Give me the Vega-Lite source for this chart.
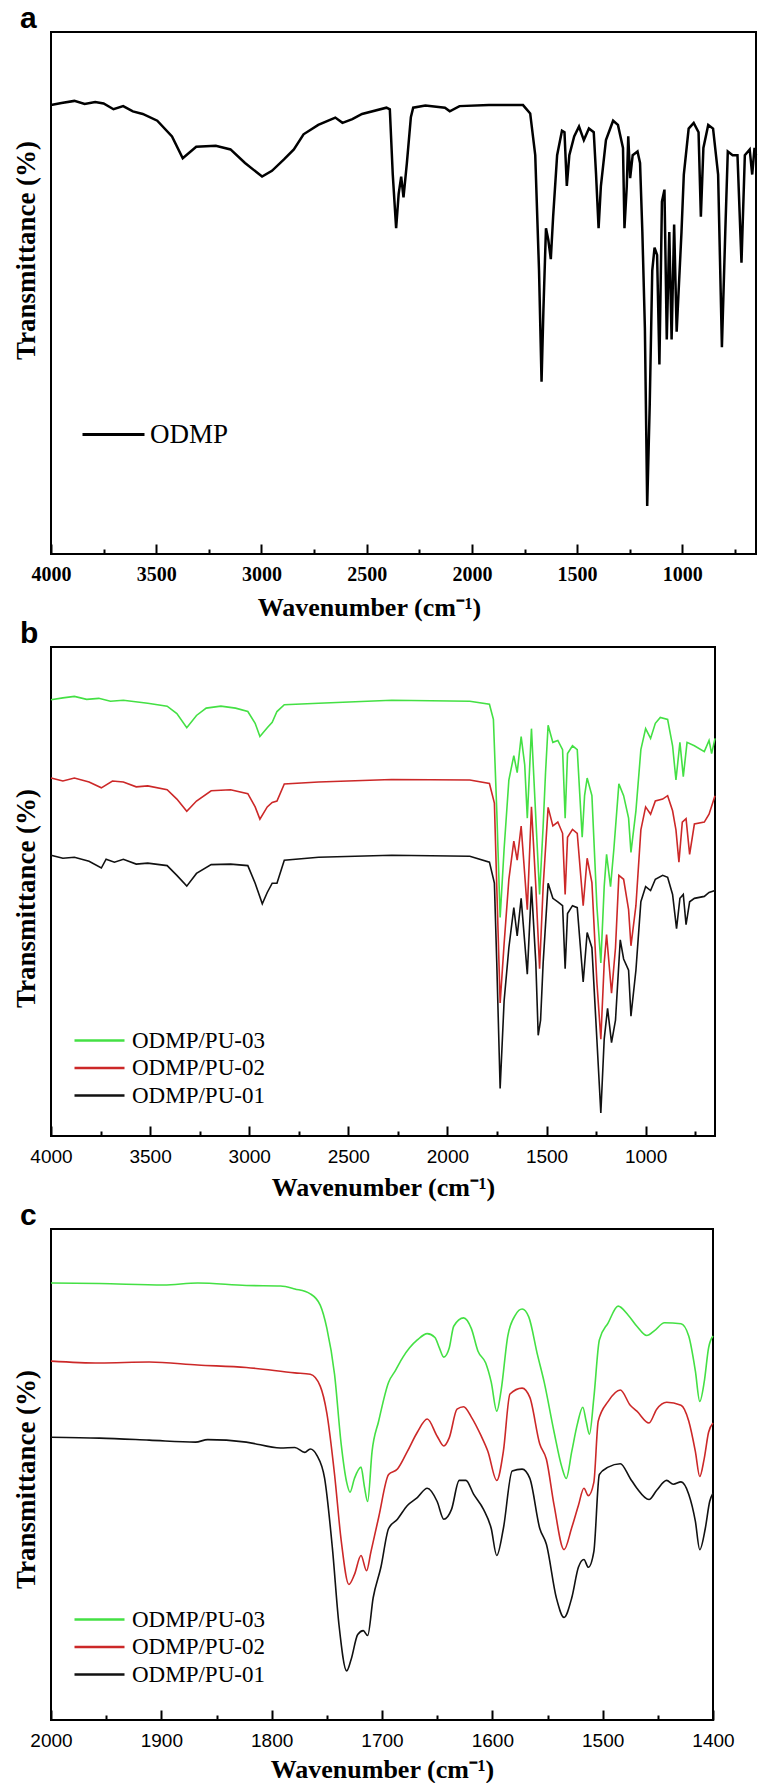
{
"$schema": "https://vega.github.io/schema/vega-lite/v6.json",
"padding": {"left": 11, "top": 3, "right": 0, "bottom": 0},
"background": "white",
"config": {"view": {"stroke": "#000", "strokeWidth": 2}, "axis": {"grid": false}},
"spacing": 93,
"bounds": "flush",
"resolve": {"scale": {"color": "independent"}, "legend": {"color": "independent"}},
"datasets": {
"a": [{"w":4000,"t":86.0},{"w":3950,"t":86.4},{"w":3889,"t":86.8},{"w":3840,"t":86.2},{"w":3790,"t":86.6},{"w":3750,"t":86.3},{"w":3703,"t":85.2},{"w":3657,"t":85.8},{"w":3611,"t":84.8},{"w":3564,"t":84.3},{"w":3495,"t":83.0},{"w":3425,"t":80.0},{"w":3374,"t":75.8},{"w":3310,"t":78.0},{"w":3217,"t":78.2},{"w":3147,"t":77.5},{"w":3078,"t":74.9},{"w":2997,"t":72.3},{"w":2950,"t":73.4},{"w":2893,"t":75.6},{"w":2846,"t":77.5},{"w":2800,"t":80.4},{"w":2730,"t":82.2},{"w":2649,"t":83.6},{"w":2615,"t":82.6},{"w":2568,"t":83.3},{"w":2522,"t":84.3},{"w":2406,"t":85.5},{"w":2390,"t":85.2},{"w":2376,"t":72.7},{"w":2360,"t":62.4},{"w":2348,"t":69.0},{"w":2336,"t":72.3},{"w":2325,"t":68.3},{"w":2309,"t":74.9},{"w":2290,"t":83.7},{"w":2279,"t":85.5},{"w":2221,"t":85.9},{"w":2128,"t":85.5},{"w":2105,"t":84.8},{"w":2059,"t":85.8},{"w":1919,"t":86.0},{"w":1757,"t":86.0},{"w":1723,"t":84.4},{"w":1699,"t":76.4},{"w":1681,"t":54.3},{"w":1669,"t":33.0},{"w":1660,"t":47.0},{"w":1648,"t":62.4},{"w":1637,"t":60.2},{"w":1625,"t":56.5},{"w":1614,"t":64.6},{"w":1595,"t":76.4},{"w":1572,"t":81.1},{"w":1560,"t":80.8},{"w":1549,"t":70.5},{"w":1537,"t":76.4},{"w":1514,"t":80.0},{"w":1491,"t":81.9},{"w":1468,"t":79.3},{"w":1444,"t":81.5},{"w":1421,"t":80.8},{"w":1410,"t":72.7},{"w":1398,"t":62.4},{"w":1387,"t":70.5},{"w":1363,"t":79.3},{"w":1329,"t":83.0},{"w":1306,"t":82.2},{"w":1282,"t":77.8},{"w":1275,"t":62.4},{"w":1264,"t":70.5},{"w":1257,"t":80.0},{"w":1248,"t":72.0},{"w":1236,"t":76.4},{"w":1213,"t":77.1},{"w":1201,"t":74.9},{"w":1190,"t":61.7},{"w":1178,"t":43.3},{"w":1167,"t":9.2},{"w":1155,"t":28.6},{"w":1143,"t":54.3},{"w":1132,"t":58.7},{"w":1120,"t":57.3},{"w":1109,"t":36.3},{"w":1097,"t":67.5},{"w":1085,"t":69.8},{"w":1074,"t":41.1},{"w":1062,"t":61.7},{"w":1051,"t":41.1},{"w":1039,"t":63.1},{"w":1027,"t":42.6},{"w":1004,"t":61.7},{"w":993,"t":72.7},{"w":970,"t":81.5},{"w":946,"t":82.6},{"w":923,"t":80.8},{"w":912,"t":64.6},{"w":900,"t":77.8},{"w":877,"t":82.2},{"w":854,"t":81.5},{"w":830,"t":72.7},{"w":812,"t":39.6},{"w":796,"t":61.7},{"w":784,"t":77.1},{"w":761,"t":76.4},{"w":738,"t":76.4},{"w":719,"t":55.8},{"w":703,"t":76.4},{"w":680,"t":77.5},{"w":668,"t":72.7},{"w":657,"t":77.8},{"w":650,"t":76.4}],
"b3": [{"w":4000,"t":89.2},{"w":3940,"t":89.6},{"w":3882,"t":89.9},{"w":3820,"t":89.3},{"w":3759,"t":89.5},{"w":3700,"t":88.9},{"w":3635,"t":89.1},{"w":3512,"t":88.5},{"w":3414,"t":87.9},{"w":3365,"t":86.4},{"w":3315,"t":83.5},{"w":3266,"t":86.0},{"w":3217,"t":87.5},{"w":3143,"t":87.9},{"w":3069,"t":87.5},{"w":3007,"t":86.8},{"w":2970,"t":84.4},{"w":2946,"t":81.7},{"w":2909,"t":83.5},{"w":2884,"t":84.6},{"w":2860,"t":86.8},{"w":2823,"t":88.2},{"w":2650,"t":88.5},{"w":2281,"t":89.1},{"w":1887,"t":88.9},{"w":1788,"t":88.3},{"w":1768,"t":85.2},{"w":1751,"t":66.5},{"w":1734,"t":44.7},{"w":1714,"t":58.7},{"w":1690,"t":72.8},{"w":1665,"t":77.8},{"w":1648,"t":74.3},{"w":1628,"t":81.7},{"w":1610,"t":75.9},{"w":1597,"t":65.0},{"w":1576,"t":83.3},{"w":1554,"t":65.0},{"w":1535,"t":49.4},{"w":1517,"t":63.4},{"w":1505,"t":74.3},{"w":1492,"t":84.0},{"w":1468,"t":80.5},{"w":1443,"t":80.9},{"w":1419,"t":79.0},{"w":1406,"t":65.0},{"w":1394,"t":78.2},{"w":1369,"t":79.8},{"w":1345,"t":79.0},{"w":1320,"t":61.1},{"w":1308,"t":69.6},{"w":1295,"t":73.2},{"w":1271,"t":69.6},{"w":1246,"t":47.1},{"w":1226,"t":35.4},{"w":1209,"t":51.0},{"w":1197,"t":57.6},{"w":1177,"t":51.0},{"w":1160,"t":58.8},{"w":1135,"t":72.0},{"w":1111,"t":69.6},{"w":1086,"t":65.0},{"w":1074,"t":58.0},{"w":1049,"t":66.5},{"w":1024,"t":79.0},{"w":1000,"t":83.3},{"w":975,"t":81.3},{"w":951,"t":84.4},{"w":926,"t":85.6},{"w":889,"t":85.2},{"w":864,"t":79.8},{"w":847,"t":72.8},{"w":827,"t":80.5},{"w":810,"t":73.5},{"w":791,"t":80.5},{"w":754,"t":79.8},{"w":704,"t":78.6},{"w":680,"t":80.9},{"w":667,"t":78.2},{"w":650,"t":81.3}],
"b2": [{"w":4000,"t":73.2},{"w":3940,"t":72.6},{"w":3882,"t":73.2},{"w":3808,"t":72.4},{"w":3746,"t":71.2},{"w":3690,"t":72.6},{"w":3635,"t":72.4},{"w":3570,"t":71.4},{"w":3512,"t":71.6},{"w":3414,"t":70.8},{"w":3365,"t":68.9},{"w":3315,"t":66.4},{"w":3266,"t":68.5},{"w":3192,"t":70.6},{"w":3094,"t":70.8},{"w":3007,"t":70.0},{"w":2970,"t":67.3},{"w":2946,"t":64.8},{"w":2909,"t":67.3},{"w":2884,"t":68.2},{"w":2860,"t":68.5},{"w":2823,"t":72.0},{"w":2650,"t":72.4},{"w":2281,"t":72.9},{"w":1887,"t":72.8},{"w":1788,"t":72.1},{"w":1763,"t":68.1},{"w":1751,"t":51.0},{"w":1734,"t":27.2},{"w":1714,"t":39.3},{"w":1690,"t":52.5},{"w":1665,"t":60.3},{"w":1648,"t":56.4},{"w":1628,"t":63.4},{"w":1597,"t":46.3},{"w":1576,"t":67.3},{"w":1554,"t":51.0},{"w":1535,"t":34.2},{"w":1517,"t":51.0},{"w":1492,"t":67.2},{"w":1468,"t":63.4},{"w":1443,"t":64.2},{"w":1419,"t":61.9},{"w":1406,"t":49.4},{"w":1394,"t":61.1},{"w":1369,"t":62.7},{"w":1345,"t":61.9},{"w":1315,"t":47.1},{"w":1295,"t":56.8},{"w":1271,"t":51.8},{"w":1246,"t":31.5},{"w":1226,"t":19.8},{"w":1209,"t":35.4},{"w":1197,"t":41.2},{"w":1172,"t":29.2},{"w":1152,"t":38.5},{"w":1135,"t":53.3},{"w":1111,"t":52.5},{"w":1086,"t":46.3},{"w":1074,"t":38.9},{"w":1049,"t":47.1},{"w":1024,"t":62.6},{"w":1000,"t":67.3},{"w":975,"t":65.8},{"w":951,"t":68.5},{"w":914,"t":68.9},{"w":889,"t":69.6},{"w":864,"t":66.5},{"w":847,"t":62.6},{"w":832,"t":56.0},{"w":815,"t":64.2},{"w":796,"t":64.9},{"w":778,"t":57.6},{"w":754,"t":63.8},{"w":704,"t":64.2},{"w":680,"t":65.8},{"w":650,"t":69.6}],
"b1": [{"w":4000,"t":57.4},{"w":3940,"t":56.8},{"w":3882,"t":57.0},{"w":3808,"t":56.2},{"w":3746,"t":54.8},{"w":3722,"t":56.6},{"w":3680,"t":56.0},{"w":3635,"t":56.6},{"w":3570,"t":55.6},{"w":3512,"t":55.8},{"w":3414,"t":55.3},{"w":3365,"t":53.3},{"w":3315,"t":51.1},{"w":3266,"t":53.7},{"w":3192,"t":55.5},{"w":3094,"t":55.6},{"w":3007,"t":55.3},{"w":2970,"t":51.7},{"w":2934,"t":47.5},{"w":2909,"t":49.8},{"w":2884,"t":51.7},{"w":2860,"t":51.7},{"w":2823,"t":56.4},{"w":2650,"t":57.0},{"w":2281,"t":57.4},{"w":1887,"t":57.2},{"w":1788,"t":56.0},{"w":1763,"t":51.7},{"w":1751,"t":35.4},{"w":1734,"t":9.7},{"w":1714,"t":27.6},{"w":1690,"t":38.5},{"w":1665,"t":46.7},{"w":1648,"t":40.9},{"w":1628,"t":48.6},{"w":1597,"t":33.1},{"w":1576,"t":51.0},{"w":1554,"t":35.4},{"w":1542,"t":20.6},{"w":1530,"t":23.7},{"w":1517,"t":35.4},{"w":1492,"t":51.7},{"w":1468,"t":48.6},{"w":1443,"t":47.9},{"w":1419,"t":47.1},{"w":1406,"t":34.2},{"w":1394,"t":45.5},{"w":1369,"t":47.1},{"w":1345,"t":46.7},{"w":1315,"t":31.5},{"w":1295,"t":41.6},{"w":1271,"t":38.5},{"w":1246,"t":19.8},{"w":1226,"t":4.7},{"w":1209,"t":19.8},{"w":1192,"t":26.1},{"w":1172,"t":19.1},{"w":1152,"t":23.7},{"w":1128,"t":40.1},{"w":1111,"t":36.2},{"w":1086,"t":33.9},{"w":1074,"t":24.5},{"w":1049,"t":33.9},{"w":1024,"t":47.9},{"w":1000,"t":51.0},{"w":975,"t":50.2},{"w":951,"t":52.5},{"w":914,"t":53.3},{"w":889,"t":52.9},{"w":864,"t":49.4},{"w":844,"t":42.4},{"w":827,"t":48.6},{"w":810,"t":49.4},{"w":796,"t":43.2},{"w":778,"t":47.9},{"w":754,"t":48.6},{"w":704,"t":49.0},{"w":680,"t":49.8},{"w":650,"t":50.2}],
"c3": [{"w":2000,"t":89.0},{"w":1956,"t":88.9},{"w":1898,"t":88.6},{"w":1867,"t":89.0},{"w":1823,"t":88.5},{"w":1792,"t":88.4},{"w":1779,"t":87.8},{"w":1765,"t":86.8},{"w":1756,"t":84.5},{"w":1750,"t":79.8},{"w":1743,"t":70.4},{"w":1737,"t":56.2},{"w":1732,"t":48.4},{"w":1729,"t":46.4},{"w":1725,"t":49.2},{"w":1719,"t":51.5},{"w":1716,"t":47.6},{"w":1713,"t":44.5},{"w":1709,"t":54.7},{"w":1703,"t":60.9},{"w":1694,"t":68.8},{"w":1688,"t":71.1},{"w":1681,"t":73.9},{"w":1675,"t":75.8},{"w":1668,"t":77.4},{"w":1659,"t":78.7},{"w":1652,"t":77.9},{"w":1648,"t":75.8},{"w":1644,"t":73.9},{"w":1639,"t":75.8},{"w":1635,"t":80.2},{"w":1626,"t":81.9},{"w":1619,"t":79.7},{"w":1613,"t":75.1},{"w":1606,"t":72.7},{"w":1601,"t":68.8},{"w":1596,"t":62.9},{"w":1592,"t":67.2},{"w":1586,"t":78.2},{"w":1579,"t":82.5},{"w":1573,"t":83.7},{"w":1567,"t":82.1},{"w":1559,"t":74.3},{"w":1553,"t":68.8},{"w":1544,"t":58.6},{"w":1537,"t":51.5},{"w":1533,"t":49.2},{"w":1528,"t":54.7},{"w":1523,"t":60.2},{"w":1518,"t":63.7},{"w":1515,"t":60.9},{"w":1512,"t":58.2},{"w":1508,"t":65.6},{"w":1503,"t":77.4},{"w":1495,"t":80.9},{"w":1486,"t":84.3},{"w":1477,"t":82.5},{"w":1469,"t":80.2},{"w":1460,"t":78.3},{"w":1453,"t":79.3},{"w":1444,"t":80.9},{"w":1429,"t":80.7},{"w":1422,"t":78.2},{"w":1416,"t":71.1},{"w":1412,"t":64.9},{"w":1408,"t":68.8},{"w":1404,"t":75.8},{"w":1400,"t":78.2}],
"c2": [{"w":2000,"t":73.1},{"w":1956,"t":72.7},{"w":1911,"t":72.9},{"w":1867,"t":72.3},{"w":1823,"t":71.8},{"w":1779,"t":70.7},{"w":1765,"t":70.4},{"w":1756,"t":68.0},{"w":1750,"t":62.5},{"w":1743,"t":50.0},{"w":1737,"t":36.6},{"w":1730,"t":27.6},{"w":1725,"t":29.6},{"w":1719,"t":33.5},{"w":1714,"t":30.4},{"w":1710,"t":34.3},{"w":1703,"t":41.3},{"w":1694,"t":50.0},{"w":1686,"t":51.1},{"w":1677,"t":54.7},{"w":1668,"t":58.6},{"w":1659,"t":61.3},{"w":1650,"t":57.8},{"w":1644,"t":55.8},{"w":1639,"t":57.5},{"w":1632,"t":63.3},{"w":1626,"t":63.8},{"w":1619,"t":61.7},{"w":1610,"t":57.8},{"w":1604,"t":54.7},{"w":1596,"t":48.8},{"w":1590,"t":54.7},{"w":1584,"t":66.4},{"w":1573,"t":67.6},{"w":1566,"t":65.7},{"w":1557,"t":56.2},{"w":1551,"t":53.1},{"w":1544,"t":43.7},{"w":1535,"t":34.7},{"w":1528,"t":39.2},{"w":1522,"t":43.7},{"w":1517,"t":47.2},{"w":1513,"t":45.7},{"w":1508,"t":48.4},{"w":1504,"t":60.9},{"w":1495,"t":64.9},{"w":1484,"t":67.2},{"w":1475,"t":64.1},{"w":1469,"t":62.9},{"w":1458,"t":60.5},{"w":1451,"t":63.3},{"w":1442,"t":64.7},{"w":1429,"t":64.1},{"w":1422,"t":60.9},{"w":1416,"t":54.7},{"w":1412,"t":49.6},{"w":1408,"t":53.2},{"w":1404,"t":58.6},{"w":1400,"t":60.5}],
"c1": [{"w":2000,"t":57.6},{"w":1956,"t":57.4},{"w":1911,"t":57.0},{"w":1869,"t":56.6},{"w":1858,"t":57.1},{"w":1823,"t":56.6},{"w":1792,"t":55.4},{"w":1779,"t":55.5},{"w":1770,"t":54.5},{"w":1765,"t":55.2},{"w":1759,"t":53.9},{"w":1752,"t":49.2},{"w":1745,"t":35.1},{"w":1739,"t":19.4},{"w":1732,"t":10.0},{"w":1728,"t":12.3},{"w":1722,"t":17.4},{"w":1717,"t":18.2},{"w":1713,"t":17.2},{"w":1708,"t":24.9},{"w":1701,"t":31.1},{"w":1694,"t":39.0},{"w":1686,"t":40.9},{"w":1677,"t":43.7},{"w":1668,"t":45.3},{"w":1659,"t":47.2},{"w":1650,"t":44.5},{"w":1644,"t":40.9},{"w":1637,"t":42.9},{"w":1630,"t":48.8},{"w":1624,"t":48.8},{"w":1617,"t":46.0},{"w":1608,"t":42.9},{"w":1601,"t":39.0},{"w":1596,"t":33.5},{"w":1590,"t":39.0},{"w":1582,"t":50.7},{"w":1573,"t":51.1},{"w":1566,"t":49.2},{"w":1557,"t":39.0},{"w":1551,"t":35.8},{"w":1542,"t":24.9},{"w":1535,"t":20.9},{"w":1528,"t":24.9},{"w":1522,"t":31.1},{"w":1517,"t":32.7},{"w":1513,"t":31.1},{"w":1508,"t":34.3},{"w":1503,"t":50.0},{"w":1495,"t":51.5},{"w":1484,"t":52.2},{"w":1475,"t":49.2},{"w":1469,"t":47.2},{"w":1458,"t":44.9},{"w":1451,"t":46.8},{"w":1442,"t":48.8},{"w":1436,"t":48.0},{"w":1429,"t":48.5},{"w":1422,"t":46.0},{"w":1416,"t":40.5},{"w":1412,"t":34.7},{"w":1407,"t":39.0},{"w":1403,"t":44.5},{"w":1400,"t":46.2}]
},
"vconcat": [
{
"width": 705, "height": 522,
"title": {"text": "a", "anchor": "start", "frame": "group", "dx": -31, "offset": -2, "fontSize": 30, "font": "Liberation Sans", "fontWeight": "bold", "color": "#000"},
"data": {"name": "a"},
"mark": {"type": "line", "strokeWidth": 2.5},
"encoding": {
"x": {"field": "w", "type": "quantitative", "scale": {"domain": [650, 4000], "reverse": true, "nice": false, "zero": false},
 "axis": {"values": [4000,3750,3500,3250,3000,2750,2500,2250,2000,1750,1500,1250,1000,750], "format": "d", "labelExpr": "datum.value % 500 === 0 ? datum.label : ''", "labelFont": "Liberation Serif", "labelFontWeight": "bold", "labelFontSize": 20, "labelColor": "#000", "labelFlush": false, "labelOverlap": false, "labelPadding": 30, "labelBaseline": "middle", "tickSize": {"condition": {"test": "datum.value % 500 === 0", "value": -10}, "value": -5}, "tickWidth": 2, "tickColor": "#000", "domain": false, "title": "Wavenumber (cm⁻¹)", "titleFont": "Liberation Serif", "titleFontWeight": "bold", "titleFontSize": 26, "titleColor": "#000", "titleX": 318, "titleY": 53, "titleBaseline": "middle", "titleAlign": "center"}},
"y": {"field": "t", "type": "quantitative", "scale": {"domain": [0, 100], "nice": false, "zero": false},
 "axis": {"labels": false, "ticks": false, "domain": false, "title": "Transmittance (%)", "titleFont": "Liberation Serif", "titleFontWeight": "bold", "titleFontSize": 27, "titleColor": "#000", "titleX": -25, "titleY": 218, "titleAngle": -90, "titleBaseline": "middle", "titleAlign": "center"}},
"color": {"datum": "ODMP", "scale": {"domain": ["ODMP"], "range": ["#000000"]},
 "legend": {"orient": "none", "legendX": 49, "legendY": 389, "title": null, "symbolType": "M-6.2,0H6.2", "symbolSize": 100, "symbolStrokeWidth": 3, "labelFont": "Liberation Serif", "labelFontSize": 27, "labelColor": "#000", "labelOffset": 23}}
}
},
{
"width": 664, "height": 489,
"title": {"text": "b", "anchor": "start", "frame": "group", "dx": -31, "offset": -2, "fontSize": 30, "font": "Liberation Sans", "fontWeight": "bold", "color": "#000"},
"encoding": {
"x": {"field": "w", "type": "quantitative", "scale": {"domain": [650, 4000], "reverse": true, "nice": false, "zero": false},
 "axis": {"values": [4000,3750,3500,3250,3000,2750,2500,2250,2000,1750,1500,1250,1000,750], "format": "d", "labelExpr": "datum.value % 500 === 0 ? datum.label : ''", "labelFont": "Liberation Sans", "labelFontSize": 19, "labelColor": "#000", "labelFlush": false, "labelOverlap": false, "labelPadding": 30, "labelBaseline": "middle", "tickSize": {"condition": {"test": "datum.value % 500 === 0", "value": -10}, "value": -5}, "tickWidth": 2, "tickColor": "#000", "domain": false, "title": "Wavenumber (cm⁻¹)", "titleFont": "Liberation Serif", "titleFontWeight": "bold", "titleFontSize": 26, "titleColor": "#000", "titleY": 51, "titleBaseline": "middle", "titleAlign": "center"}},
"y": {"field": "t", "type": "quantitative", "scale": {"domain": [0, 100], "nice": false, "zero": false},
 "axis": {"labels": false, "ticks": false, "domain": false, "title": "Transmittance (%)", "titleFont": "Liberation Serif", "titleFontWeight": "bold", "titleFontSize": 27, "titleColor": "#000", "titleX": -25, "titleY": 251, "titleAngle": -90, "titleBaseline": "middle", "titleAlign": "center"}}
},
"layer": [
{"data": {"name": "b3"}, "mark": {"type": "line", "strokeWidth": 1.6}, "encoding": {"color": {"datum": "ODMP/PU-03", "scale": {"domain": ["ODMP/PU-03", "ODMP/PU-02", "ODMP/PU-01"], "range": ["#44e044", "#cc2828", "#111111"]},
 "legend": {"orient": "none", "legendX": 37, "legendY": 382, "title": null, "symbolType": "M-5,0H5", "symbolSize": 100, "symbolStrokeWidth": 2.5, "labelFont": "Liberation Serif", "labelFontSize": 23, "labelColor": "#000", "labelOffset": 21, "rowPadding": 3.5}}}},
{"data": {"name": "b2"}, "mark": {"type": "line", "strokeWidth": 1.6}, "encoding": {"color": {"datum": "ODMP/PU-02"}}},
{"data": {"name": "b1"}, "mark": {"type": "line", "strokeWidth": 1.6}, "encoding": {"color": {"datum": "ODMP/PU-01"}}}
]
},
{
"width": 662, "height": 491,
"title": {"text": "c", "anchor": "start", "frame": "group", "dx": -31, "offset": -2, "fontSize": 30, "font": "Liberation Sans", "fontWeight": "bold", "color": "#000"},
"encoding": {
"x": {"field": "w", "type": "quantitative", "scale": {"domain": [1400, 2000], "reverse": true, "nice": false, "zero": false},
 "axis": {"values": [2000,1950,1900,1850,1800,1750,1700,1650,1600,1550,1500,1450,1400], "format": "d", "labelExpr": "datum.value % 100 === 0 ? datum.label : ''", "labelFont": "Liberation Sans", "labelFontSize": 19, "labelColor": "#000", "labelFlush": false, "labelOverlap": false, "labelPadding": 30, "labelBaseline": "middle", "tickSize": {"condition": {"test": "datum.value % 100 === 0", "value": -10}, "value": -5}, "tickWidth": 2, "tickColor": "#000", "domain": false, "title": "Wavenumber (cm⁻¹)", "titleFont": "Liberation Serif", "titleFontWeight": "bold", "titleFontSize": 26, "titleColor": "#000", "titleY": 49, "titleBaseline": "middle", "titleAlign": "center"}},
"y": {"field": "t", "type": "quantitative", "scale": {"domain": [0, 100], "nice": false, "zero": false},
 "axis": {"labels": false, "ticks": false, "domain": false, "title": "Transmittance (%)", "titleFont": "Liberation Serif", "titleFontWeight": "bold", "titleFontSize": 27, "titleColor": "#000", "titleX": -25, "titleY": 250, "titleAngle": -90, "titleBaseline": "middle", "titleAlign": "center"}}
},
"layer": [
{"data": {"name": "c3"}, "mark": {"type": "line", "strokeWidth": 1.6, "interpolate": "monotone"}, "encoding": {"color": {"datum": "ODMP/PU-03", "scale": {"domain": ["ODMP/PU-03", "ODMP/PU-02", "ODMP/PU-01"], "range": ["#44e044", "#cc2828", "#111111"]},
 "legend": {"orient": "none", "legendX": 37, "legendY": 379, "title": null, "symbolType": "M-5,0H5", "symbolSize": 100, "symbolStrokeWidth": 2.5, "labelFont": "Liberation Serif", "labelFontSize": 23, "labelColor": "#000", "labelOffset": 21, "rowPadding": 3.5}}}},
{"data": {"name": "c2"}, "mark": {"type": "line", "strokeWidth": 1.6, "interpolate": "monotone"}, "encoding": {"color": {"datum": "ODMP/PU-02"}}},
{"data": {"name": "c1"}, "mark": {"type": "line", "strokeWidth": 1.6, "interpolate": "monotone"}, "encoding": {"color": {"datum": "ODMP/PU-01"}}}
]
}
]
}
